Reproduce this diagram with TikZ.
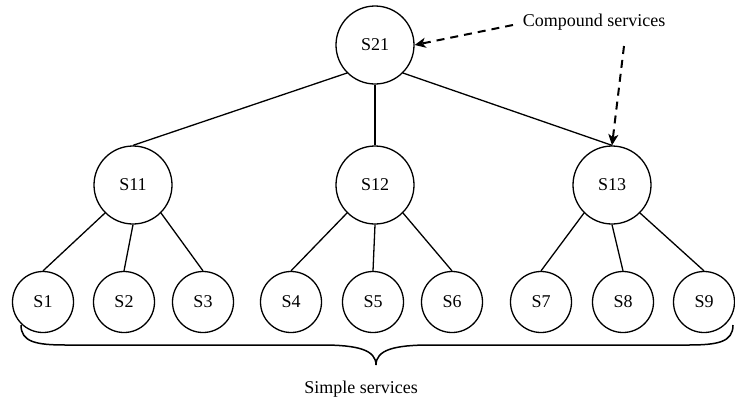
\documentclass[tikz,border=0pt]{standalone}
\usepackage{fontspec}
\setmainfont{Liberation Serif}
\usetikzlibrary{arrows.meta}
\begin{document}
\begin{tikzpicture}[x=1pt,y=-1pt,
  big/.style={circle,draw,line width=1.3pt,minimum size=78pt,inner sep=0pt,font=\fontsize{18}{20}\selectfont},
  leaf/.style={circle,draw,line width=1.3pt,minimum size=61pt,inner sep=0pt,font=\fontsize{18}{20}\selectfont},
  edge/.style={line width=1.3pt},
  pointer/.style={line width=2pt,dash pattern=on 8pt off 6pt,-{Stealth[length=11pt,width=10pt,inset=3pt]}},
  bracestyle/.style={line width=1.5pt},
  lbl/.style={font=\fontsize{18}{20}\selectfont,inner sep=0pt}]
\useasboundingbox (0,0) rectangle (735,400);
\node[big] (S21) at (375,45) {S21};
\node[big] (S11) at (133,185) {S11};
\node[big] (S12) at (375,185) {S12};
\node[big] (S13) at (612,185) {S13};
\node[leaf] (S1) at (43,302) {S1};
\node[leaf] (S2) at (124,302) {S2};
\node[leaf] (S3) at (203,302) {S3};
\node[leaf] (S4) at (291,302) {S4};
\node[leaf] (S5) at (373,302) {S5};
\node[leaf] (S6) at (452,302) {S6};
\node[leaf] (S7) at (541,302) {S7};
\node[leaf] (S8) at (623,302) {S8};
\node[leaf] (S9) at (704,302) {S9};
\draw[edge] (S21.-135) -- (S11.north);
\draw[edge] (S21.south) -- (S12.north);
\draw[edge] (S21.-45) -- (S13.north);
\foreach \p/\a/\b/\c in {S11/S1/S2/S3,S12/S4/S5/S6,S13/S7/S8/S9}{
  \draw[edge] (\p.-135) -- (\a.north);
  \draw[edge] (\p.south) -- (\b.north);
  \draw[edge] (\p.-45) -- (\c.north);
}
\node[lbl] (comp) at (594,22) {Compound services};
\coordinate (c1) at (513,25);
\coordinate (c2) at (624,46);
\draw[pointer] (c1) -- (S21.east);
\draw[pointer] (c2) -- (S13.north);
\draw[bracestyle] (21,325) .. controls (21,342) and (36,345) .. (66,345)
  -- (322,345) .. controls (358,345) and (376,350) .. (376,365)
  .. controls (376,350) and (394,345) .. (430,345)
  -- (688,345) .. controls (718,345) and (733,342) .. (733,325);
\node[lbl] (simple) at (361,389) {Simple services};
\end{tikzpicture}
\end{document}
